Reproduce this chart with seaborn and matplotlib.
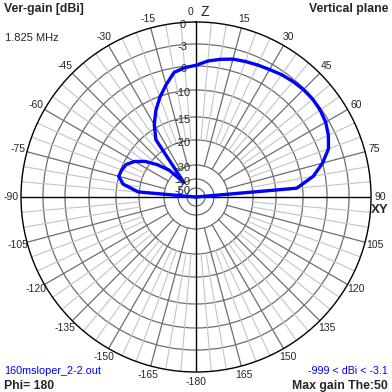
import numpy as np
import pandas as pd
import matplotlib
matplotlib.use('Agg')
import matplotlib.pyplot as plt
import seaborn as sns

# elevation angle (deg from zenith, + towards XY right) and gain [dBi]
theta_deg = [-90, -85, -80, -75, -70, -65, -60, -55, -50, -45, -40, -35, -30, -25,
             -20, -15, -10, -5, 0, 5, 10, 15, 20, 25, 30, 35, 40, 45, 50, 55,
             60, 65, 70, 75, 80, 85, 90]
gain_db = [-999, -19.8, -16.3, -15.0, -15.2, -15.65, -16.95, -18.9, -22.8, -27.6, -39.3,
           -17.2, -14.35, -12.2, -10.2, -8.5, -6.75, -6.2, -5.9, -5.25, -4.8, -4.4, -4.2,
           -4.0, -3.8, -3.5, -3.3, -3.15, -3.1, -3.2, -3.45, -3.95, -4.64, -6.0, -8.0,
           -11.1, -999]

ring_db = [-50, -40, -30, -20, -15, -10, -6, -3, 0]
ring_labels = ['-50', '-40', '-30', '-20', '-15', '-10', '-6', '-3', '0']
angle_ticks = list(range(0, 360, 15))
angle_labels = [('' if a == 0 else str(a if a < 180 else a - 360)) for a in angle_ticks]

# radial scale of the plot (dB -> fraction of radius)
scale_db = [-70, -50, -40, -30, -20, -15, -10, -6, -3, 0]
scale_r = np.array([0, 9, 18, 32, 57, 80, 107, 131, 153, 175]) / 175.0

def fwd(v):
    return np.interp(v, scale_db, scale_r)

def inv(v):
    return np.interp(v, scale_r, scale_db)

sns.set_style('white')
plt.rcParams['font.family'] = ['Liberation Sans', 'DejaVu Sans']

fig = plt.figure(figsize=(3.92, 3.92), dpi=100)
ax = fig.add_axes([0.0536, 0.051, 0.8929, 0.8929], projection='polar')
ax.set_theta_zero_location('N')
ax.set_theta_direction(-1)
ax.set_rscale('function', functions=(fwd, inv))

# light spokes every 5 deg, dark every 15 deg
for a in range(0, 360, 5):
    t = np.deg2rad(a)
    if a % 90 == 0:
        ax.plot([t, t], [-70, 0], color='black', lw=1.0, zorder=3)
    elif a % 15 == 0:
        ax.plot([t, t], [-30, 0], color='#6e6e6e', lw=0.9, zorder=2)
    else:
        ax.plot([t, t], [-20, 0], color='#c4c4c4', lw=0.8, zorder=1)

df = pd.DataFrame({'theta': np.deg2rad(theta_deg), 'gain': gain_db})
sns.lineplot(data=df, x='theta', y='gain', sort=False, ax=ax, color='#0000ff',
             lw=2.4, zorder=5, estimator=None)

ax.set_rlim(-70, 0)
ax.set_yticks(ring_db[:-1])
ax.set_yticklabels([])
ax.yaxis.grid(True, color='#6e6e6e', lw=0.9)
ax.xaxis.grid(False)
ax.set_xticks(np.deg2rad(angle_ticks))
ax.set_xticklabels(angle_labels, fontsize=7.5)
ax.tick_params(axis='x', pad=-3.5)
ax.spines['polar'].set_color('black')
ax.spines['polar'].set_linewidth(1.0)
ax.set_xlabel('')
ax.set_ylabel('')

for db, lbl in zip(ring_db, ring_labels):
    ax.annotate(lbl, xy=(0, db), xytext=(-9.5, -2), textcoords='offset points',
                ha='center', va='center', fontsize=8, zorder=6)

H = 392.0
def ftxt(x, y, s, **kw):
    fig.text(x / H, 1 - y / H, s, **kw)

ftxt(4, 9, 'Ver-gain [dBi]', fontsize=8.8, fontweight='bold', va='center', ha='left')
ftxt(388, 9, 'Vertical plane', fontsize=8.8, fontweight='bold', va='center', ha='right')
ftxt(5, 38, '1.825 MHz', fontsize=8, va='center', ha='left')
ftxt(4, 371, '160msloper_2-2.out', fontsize=7.8, va='center', ha='left', color='#0000ff')
ftxt(388, 371, '-999 < dBi < -3.1', fontsize=7.7, va='center', ha='right', color='#0000ff')
ftxt(4, 386, 'Phi= 180', fontsize=8.8, fontweight='bold', va='center', ha='left')
ftxt(388, 386, 'Max gain The:50', fontsize=8.8, fontweight='bold', va='center', ha='right')
ftxt(190, 12, '0', fontsize=7.5, va='center', ha='center')
ftxt(205, 12, 'Z', fontsize=10, va='center', ha='center')
ftxt(380, 210, 'XY', fontsize=9.5, fontweight='bold', va='center', ha='center')

fig.savefig('out.png', dpi=100, facecolor='white')
